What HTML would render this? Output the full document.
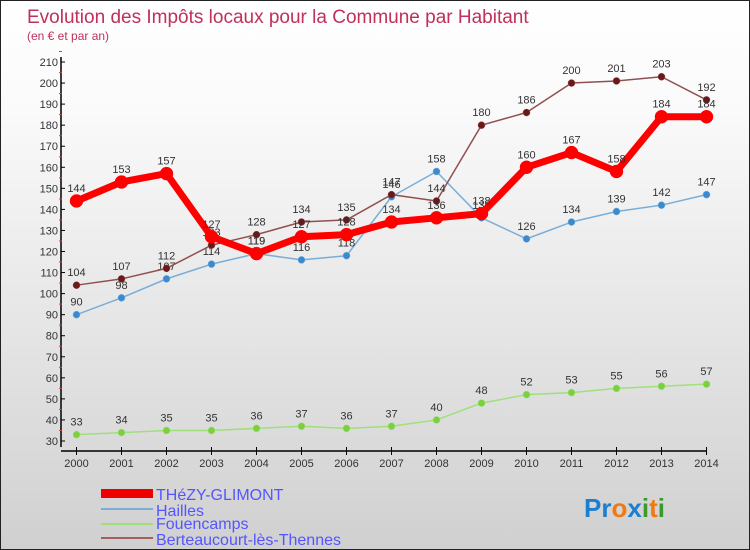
<!DOCTYPE html>
<html><head><meta charset="utf-8"><style>
body{margin:0;}
#c{width:748px;height:548px;border:1px solid #222;background:linear-gradient(#fff,#fafafa 20%,#d0d0d0);position:relative;overflow:hidden;font-family:"Liberation Sans",sans-serif;}
</style></head><body>
<div id="c">
<svg id="s" width="748" height="548" xmlns="http://www.w3.org/2000/svg">
<text x="26" y="22" font-size="19" fill="#c0305a">Evolution des Impôts locaux pour la Commune par Habitant</text>
<text x="26" y="39" font-size="12" fill="#c0305a">(en € et par an)</text>
<g id="axes"></g><g id="series"></g>
<g>
<rect x="100" y="488" width="52" height="9" fill="#e00"/>
<text x="155" y="499" font-size="16" fill="#55f">THéZY-GLIMONT</text>
<line x1="100" y1="508" x2="152" y2="508" stroke="#7aaed8" stroke-width="2"/>
<text x="155" y="515" font-size="16" fill="#55f">Hailles</text>
<line x1="100" y1="523" x2="152" y2="523" stroke="#9fe07a" stroke-width="2"/>
<text x="155" y="528" font-size="16" fill="#55f">Fouencamps</text>
<line x1="100" y1="537" x2="152" y2="537" stroke="#a06060" stroke-width="2"/>
<text x="155" y="544" font-size="16" fill="#55f">Berteaucourt-lès-Thennes</text>
</g>
<text x="583" y="516" font-size="26" font-weight="bold"><tspan fill="#1a7fd0">Pr</tspan><tspan fill="#f07a10">o</tspan><tspan fill="#1a7fd0">x</tspan><tspan fill="#3a9a30">i</tspan><tspan fill="#f07a10">t</tspan><tspan fill="#3a9a30">i</tspan></text>
</svg></div>
<script>
const years=[2000,2001,2002,2003,2004,2005,2006,2007,2008,2009,2010,2011,2012,2013,2014];
const yTicks=[30,40,50,60,70,80,90,100,110,120,130,140,150,160,170,180,190,200,210];
const thezy=[144,153,157,127,119,127,128,134,136,138,160,167,158,184,184];
const hailles=[90,98,107,114,119,116,118,146,158,136,126,134,139,142,147];
const fouencamps=[33,34,35,35,36,37,36,37,40,48,52,53,55,56,57];
const berteaucourt=[104,107,112,123,128,134,135,147,144,180,186,200,201,203,192];
const NS="http://www.w3.org/2000/svg";
const X=i=>75.5+i*(705.5-75.5)/14;
const Y=v=>440-(v-30)*(379/180);
function mk(t,a,p){const e=document.createElementNS(NS,t);for(const k in a)e.setAttribute(k,a[k]);p.appendChild(e);return e;}
const ax=document.getElementById('axes'),sg=document.getElementById('series');
let l=mk('line',{x1:60,y1:56,x2:60,y2:446,stroke:'#000','stroke-width':1.5},ax);


l=mk('line',{x1:60,y1:450,x2:706,y2:450,stroke:'#000','stroke-width':1.5},ax);


yTicks.forEach(v=>{mk('line',{x1:60,y1:Y(v),x2:64,y2:Y(v),stroke:'#000'},ax);
mk('line',{x1:58,y1:Y(v+5),x2:61,y2:Y(v+5),stroke:'#e33'},ax);
const t=mk('text',{x:57,y:Y(v)+4,'font-size':11,fill:'#333','text-anchor':'end'},ax);t.textContent=v;

});
years.forEach((yr,i)=>{mk('line',{x1:X(i),y1:446,x2:X(i),y2:454,stroke:'#000'},ax);
const t=mk('text',{x:X(i),y:466,'font-size':11,fill:'#333','text-anchor':'middle'},ax);t.textContent=yr;

});
function draw(d,name,col,dot,w,r,labels){
const p=mk('polyline',{points:d.map((v,i)=>X(i)+','+Y(v)).join(' '),fill:'none',stroke:col,'stroke-width':w,'stroke-linejoin':'round'},sg);


d.forEach((v,i)=>{const c=mk('circle',{cx:X(i),cy:Y(v),r:r,fill:dot,stroke:col,'stroke-width':0.5},sg);


const t=mk('text',{x:X(i),y:Y(v)-9,'font-size':11,fill:'#333','text-anchor':'middle'},sg);t.textContent=v;

});}
draw(fouencamps,'fouencamps','#9fe07a','#7cd040',1.5,3.5);
draw(hailles,'hailles','#7aaed8','#3a8ad0',1.5,3.5);
draw(berteaucourt,'berteaucourt','#905050','#6a1818',1.5,3.5);
draw(thezy,'thezy','#f00','#f00',7,6.5);
</script>
</body></html>
